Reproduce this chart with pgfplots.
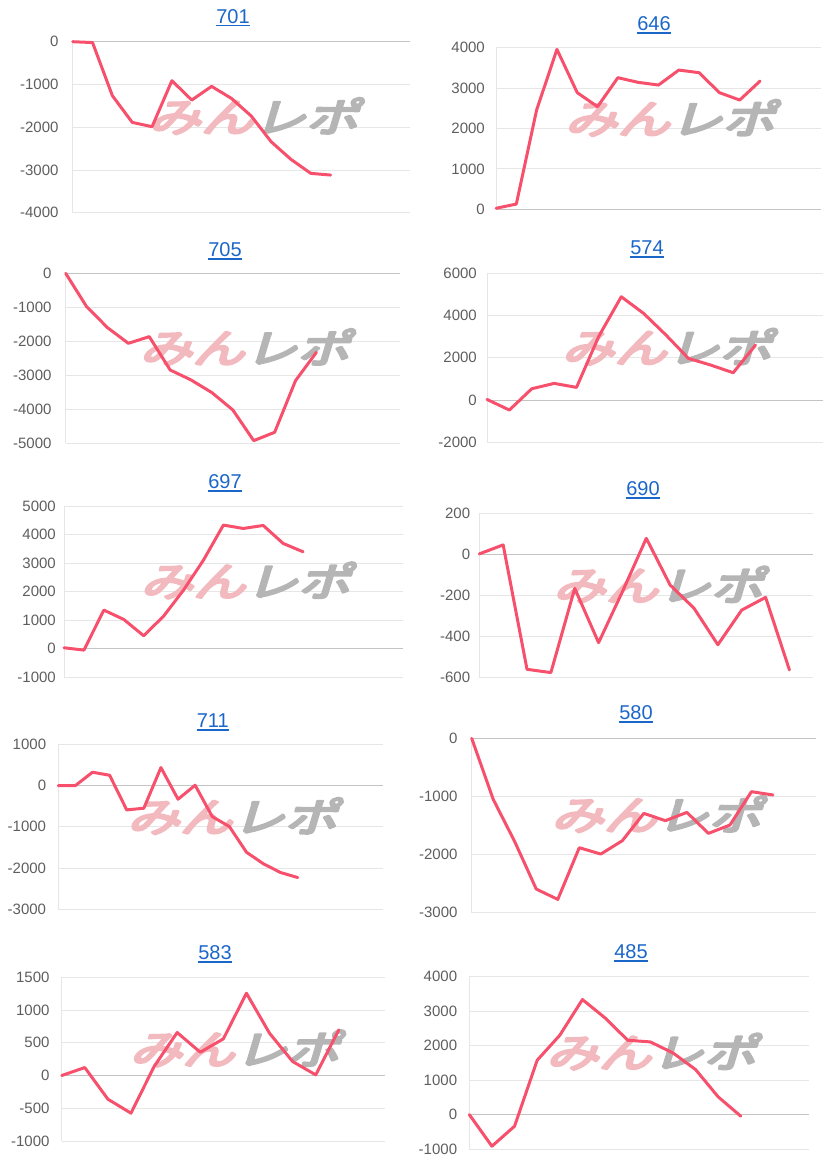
\documentclass[border=0pt]{standalone}
\usepackage{pgfplots}
\pgfplotsset{compat=1.18}
\usepackage{fontspec}
\setmainfont{Liberation Sans}
\newfontfamily\cjk{Noto Sans CJK JP}

\definecolor{linered}{HTML}{F7506C}
\definecolor{ttlblue}{HTML}{1B66C9}
\definecolor{ticktxt}{HTML}{5E5E5E}
\definecolor{gridc}{HTML}{E6E6E6}
\definecolor{zeroc}{HTML}{C4C4C4}
\definecolor{wmpink}{HTML}{F2BABE}
\definecolor{wmgrey}{HTML}{B5B5B5}

\pgfplotsset{
  mini/.style={
    scale only axis, clip=false,
    hide x axis, xmin=0,
    axis y line*=left,
    y axis line style={draw=gridc, line width=0.9pt},
    ymajorgrids, grid style={draw=gridc, line width=0.9pt},
    major tick length=0pt,
    extra y ticks={0}, extra y tick labels={},
    extra y tick style={grid style={draw=zeroc, line width=0.9pt}},
    /pgf/number format/assume math mode=true,
    /pgf/number format/1000 sep={},
    yticklabel style={anchor=east, inner sep=0pt, text=ticktxt,
      font=\fontsize{15}{15}\selectfont, xshift=-#1},
  },
  mini/.default=11pt,
  redline/.style={linered, line width=3pt, line join=round, line cap=round, mark=none},
}

% title with underline
\newcommand{\ttl}[3]{%
  \node[inner sep=0pt, text=ttlblue, font=\fontsize{20}{20}\selectfont] (t#3) at (#1pt,-#2pt) {#3};
  \draw[ttlblue, line width=1.2pt] ([yshift=-2.2pt]t#3.base west) -- ([yshift=-2.2pt]t#3.base east);}

% watermark, glyphs stroked as well as filled to make them heavier
\newcommand{\heavy}[1]{\special{pdf:literal direct 2 Tr 3 w 1 j}#1\special{pdf:literal direct 0 Tr 1 w}}
\newcommand{\wm}{%
  \node[inner sep=0pt, xslant=0.3, xscale=1.05, yscale=0.8] at (rel axis cs:0.55,0.565)
    {\cjk\fontsize{50}{50}\selectfont\textcolor{wmpink}{\heavy{みん}}\textcolor{wmgrey}{\heavy{レポ}}};}

\begin{document}
\begin{tikzpicture}
\path[use as bounding box] (0,0) rectangle (832pt,-1163pt);

%701
\begin{axis}[mini=14pt, at={(72.7pt,-212.7pt)}, anchor=south west, width=337.3pt, height=171pt,
  xmax=17, ymin=-4000, ymax=0, ytick={-4000,-3000,...,0}]
\wm
\addplot[redline] coordinates {(0,0)(1,-20)(2,-1263)(3,-1887)(4,-1988)(5,-912)(6,-1365)(7,-1045)(8,-1326)(9,-1739)(10,-2339)(11,-2752)(12,-3080)(13,-3119)};
\end{axis}
\ttl{233}{16.7}{701}

%646
\begin{axis}[mini=11pt, at={(496pt,-209.3pt)}, anchor=south west, width=325pt, height=161.6pt,
  xmax=16, ymin=0, ymax=4000, ytick={0,1000,...,4000}]
\wm
\addplot[redline] coordinates {(0,25)(1,130)(2,2458)(3,3959)(4,2887)(5,2540)(6,3258)(7,3142)(8,3076)(9,3447)(10,3381)(11,2887)(12,2705)(13,3175)};
\end{axis}
\ttl{654}{24}{646}

%705
\begin{axis}[mini=14pt, at={(65.7pt,-443.3pt)}, anchor=south west, width=334.3pt, height=170pt,
  xmax=16, ymin=-5000, ymax=0, ytick={-5000,-4000,...,0}]
\wm
\addplot[redline] coordinates {(0,0)(1,-980)(2,-1598)(3,-2059)(4,-1863)(5,-2843)(6,-3137)(7,-3510)(8,-4020)(9,-4922)(10,-4676)(11,-3157)(12,-2324)};
\end{axis}
\ttl{225}{250}{705}

%574
\begin{axis}[mini=10pt, at={(487pt,-442.3pt)}, anchor=south west, width=335.7pt, height=169pt,
  xmax=15, ymin=-2000, ymax=6000, ytick={-2000,0,...,6000}]
\wm
\addplot[redline] coordinates {(0,30)(1,-473)(2,536)(3,789)(4,600)(5,3028)(6,4890)(7,4101)(8,3076)(9,1972)(10,1656)(11,1293)(12,2603)};
\end{axis}
\ttl{647}{248}{574}

%697
\begin{axis}[mini=8pt, at={(64pt,-677.3pt)}, anchor=south west, width=338.7pt, height=171.3pt,
  xmax=17, ymin=-1000, ymax=5000, ytick={-1000,0,...,5000}]
\wm
\addplot[redline] coordinates {(0,35)(1,-47)(2,1354)(3,1027)(4,455)(5,1144)(6,2054)(7,3105)(8,4331)(9,4214)(10,4319)(11,3689)(12,3397)};
\end{axis}
\ttl{225}{482}{697}

%690
\begin{axis}[mini=9pt, at={(479.3pt,-677.3pt)}, anchor=south west, width=334pt, height=164pt,
  xmax=14, ymin=-600, ymax=200, ytick={-600,-400,...,200}]
\wm
\addplot[redline] coordinates {(0,2)(1,46)(2,-561)(3,-577)(4,-166)(5,-431)(6,-182)(7,78)(8,-150)(9,-263)(10,-441)(11,-272)(12,-210)(13,-564)};
\end{axis}
\ttl{643}{489}{690}

%711
\begin{axis}[mini=12pt, at={(58.3pt,-909.3pt)}, anchor=south west, width=325pt, height=165pt,
  xmax=19, ymin=-3000, ymax=1000, ytick={-3000,-2000,...,1000}]
\wm
\addplot[redline] coordinates {(0,0)(1,0)(2,323)(3,250)(4,-590)(5,-549)(6,436)(7,-331)(8,8)(9,-752)(10,-994)(11,-1616)(12,-1899)(13,-2109)(14,-2230)};
\end{axis}
\ttl{212.7}{721}{711}

%580
\begin{axis}[mini=14pt, at={(471.7pt,-912.7pt)}, anchor=south west, width=344.3pt, height=174.4pt,
  xmax=16, ymin=-3000, ymax=0, ytick={-3000,-2000,...,0}]
\wm
\addplot[redline] coordinates {(0,0)(1,-1050)(2,-1778)(3,-2593)(4,-2771)(5,-1882)(6,-1991)(7,-1761)(8,-1291)(9,-1417)(10,-1274)(11,-1635)(12,-1492)(13,-918)(14,-975)};
\end{axis}
\ttl{636}{713}{580}

%583
\begin{axis}[mini=12pt, at={(61.7pt,-1141pt)}, anchor=south west, width=323.3pt, height=163.7pt,
  xmax=14, ymin=-1000, ymax=1500, ytick={-1000,-500,...,1500}]
\wm
\addplot[redline] coordinates {(0,0)(1,122)(2,-361)(3,-575)(4,137)(5,657)(6,356)(7,560)(8,1257)(9,646)(10,214)(11,10)(12,697)};
\end{axis}
\ttl{215}{953}{583}

%485
\begin{axis}[mini=12pt, at={(469.3pt,-1149pt)}, anchor=south west, width=339.4pt, height=172.3pt,
  xmax=15, ymin=-1000, ymax=4000, ytick={-1000,0,...,4000}]
\wm
\addplot[redline] coordinates {(0,0)(1,-919)(2,-338)(3,1576)(4,2302)(5,3337)(6,2805)(7,2157)(8,2108)(9,1789)(10,1306)(11,513)(12,-48)};
\end{axis}
\ttl{631}{952}{485}

\end{tikzpicture}
\end{document}
